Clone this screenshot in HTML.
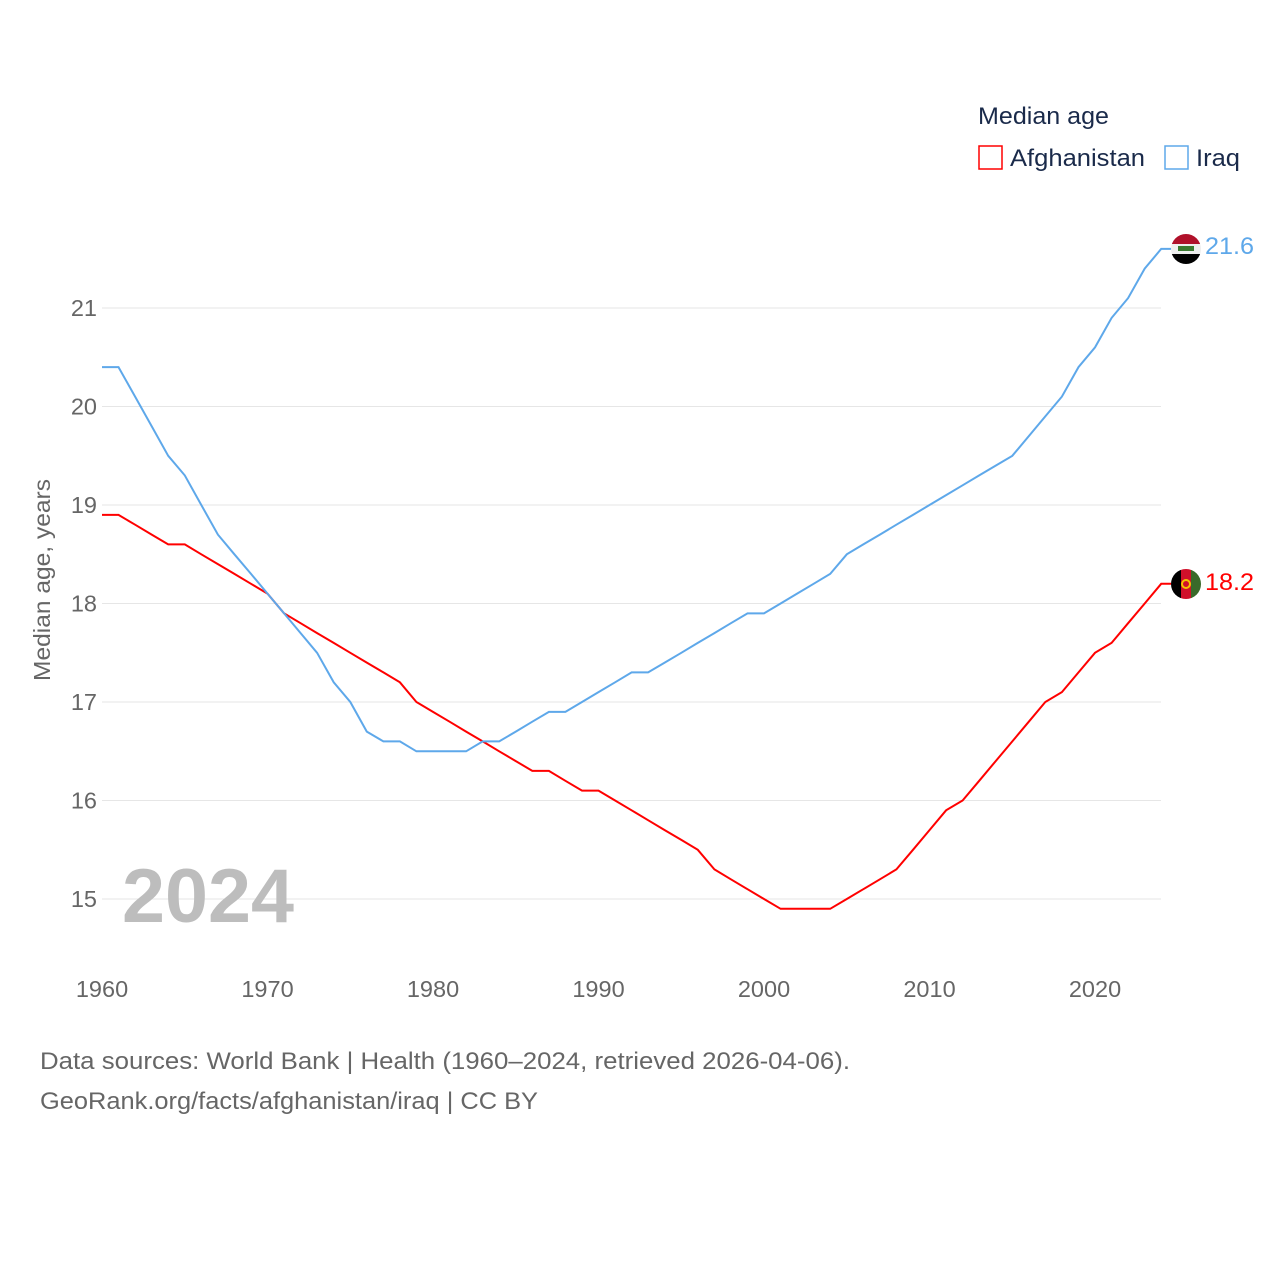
<!DOCTYPE html>
<html><head><meta charset="utf-8"><style>
body{margin:0;background:#fff;font-family:"Liberation Sans",sans-serif}
</style></head><body>
<svg width="1280" height="1280" xmlns="http://www.w3.org/2000/svg" style="font-family:'Liberation Sans',sans-serif">
<g id="grid"></g>
<g id="yt" font-size="23.5" fill="#666" text-anchor="end"></g>
<g id="xt" font-size="23.5" fill="#666" text-anchor="middle"></g>
<text x="0" y="0" transform="translate(50,580) rotate(-90)" text-anchor="middle" font-size="23" fill="#666" textLength="202" lengthAdjust="spacingAndGlyphs">Median age, years</text>
<text x="122" y="922" font-size="76" font-weight="bold" fill="#bdbdbd" textLength="172" lengthAdjust="spacingAndGlyphs">2024</text>
<g id="lines"></g>
<g>
<text x="978" y="124" font-size="24" fill="#1a2a4a" textLength="131" lengthAdjust="spacingAndGlyphs">Median age</text>
<rect x="979" y="146" width="23" height="23" fill="none" stroke="#f00" stroke-width="1.5"/>
<text x="1010" y="166" font-size="24" fill="#1a2a4a" textLength="135" lengthAdjust="spacingAndGlyphs">Afghanistan</text>
<rect x="1165" y="146" width="23" height="23" fill="none" stroke="#5ea8ea" stroke-width="1.5"/>
<text x="1196" y="166" font-size="24" fill="#1a2a4a" textLength="44" lengthAdjust="spacingAndGlyphs">Iraq</text>
</g>
<g>
<clipPath id="ci"><circle cx="1186" cy="249" r="15"/></clipPath>
<g clip-path="url(#ci)"><rect x="1170" y="234" width="32" height="10" fill="#b0102a"/><rect x="1170" y="244" width="32" height="10" fill="#eee"/><rect x="1170" y="254" width="32" height="11" fill="#000"/><rect x="1178" y="246" width="16" height="5" fill="#3a7a30"/></g>
</g>
<g>
<clipPath id="ca"><circle cx="1186" cy="584" r="15"/></clipPath>
<g clip-path="url(#ca)"><rect x="1170" y="569" width="11" height="31" fill="#000"/><rect x="1181" y="569" width="10" height="31" fill="#d0102a"/><rect x="1191" y="569" width="11" height="31" fill="#3a6a2a"/><circle cx="1186" cy="584" r="4" fill="none" stroke="#f5c400" stroke-width="2"/></g>
</g>
<text x="1205" y="254" font-size="24" fill="#5ea8ea" textLength="49" lengthAdjust="spacingAndGlyphs">21.6</text>
<text x="1205" y="590" font-size="24" fill="#f00" textLength="49" lengthAdjust="spacingAndGlyphs">18.2</text>
<text x="40" y="1069" font-size="24" fill="#666" textLength="810" lengthAdjust="spacingAndGlyphs">Data sources: World Bank | Health (1960–2024, retrieved 2026-04-06).</text>
<text x="40" y="1109" font-size="24" fill="#666" textLength="498" lengthAdjust="spacingAndGlyphs">GeoRank.org/facts/afghanistan/iraq | CC BY</text>
</svg>
<script>
const years=[];for(let y=1960;y<=2024;y++)years.push(y);
const iraq=[20.4,20.4,20.1,19.8,19.5,19.3,19.0,18.7,18.5,18.3,18.1,17.9,17.7,17.5,17.2,17.0,16.7,16.6,16.6,16.5,16.5,16.5,16.5,16.6,16.6,16.7,16.8,16.9,16.9,17.0,17.1,17.2,17.3,17.3,17.4,17.5,17.6,17.7,17.8,17.9,17.9,18.0,18.1,18.2,18.3,18.5,18.6,18.7,18.8,18.9,19.0,19.1,19.2,19.3,19.4,19.5,19.7,19.9,20.1,20.4,20.6,20.9,21.1,21.4,21.6];
const afghanistan=[18.9,18.9,18.8,18.7,18.6,18.6,18.5,18.4,18.3,18.2,18.1,17.9,17.8,17.7,17.6,17.5,17.4,17.3,17.2,17.0,16.9,16.8,16.7,16.6,16.5,16.4,16.3,16.3,16.2,16.1,16.1,16.0,15.9,15.8,15.7,15.6,15.5,15.3,15.2,15.1,15.0,14.9,14.9,14.9,14.9,15.0,15.1,15.2,15.3,15.5,15.7,15.9,16.0,16.2,16.4,16.6,16.8,17.0,17.1,17.3,17.5,17.6,17.8,18.0,18.2];
const yTicks=[15,16,17,18,19,20,21];
const xTicks=[1960,1970,1980,1990,2000,2010,2020];
const X=y=>102+(y-1960)*16.55;
const Y=v=>308-(v-21)*98.5;
const NS="http://www.w3.org/2000/svg";
const g=document.getElementById('grid'),yt=document.getElementById('yt'),xt=document.getElementById('xt'),ln=document.getElementById('lines');
yTicks.forEach(t=>{
 const l=document.createElementNS(NS,'line');
 
 
 l.setAttribute('x1',102);l.setAttribute('x2',1161);l.setAttribute('y1',Y(t));l.setAttribute('y2',Y(t));l.setAttribute('stroke','#e6e6e6');
 g.appendChild(l);
 const tx=document.createElementNS(NS,'text');
 
 
 tx.setAttribute('x',97);tx.setAttribute('y',Y(t)+8);tx.textContent=t;yt.appendChild(tx);
});
xTicks.forEach(t=>{
 const tx=document.createElementNS(NS,'text');
 
 
 tx.setAttribute('x',X(t));tx.setAttribute('y',997);tx.textContent=t;xt.appendChild(tx);
});
function draw(vals,color,name){
 const p=document.createElementNS(NS,'path');
 
 
 let d=vals.map((v,i)=>(i?'L':'M')+X(years[i]).toFixed(1)+','+Y(v).toFixed(1)).join('');
 d+='L'+(X(2024)+10)+','+Y(vals[vals.length-1]).toFixed(1);
 p.setAttribute('d',d);p.setAttribute('fill','none');p.setAttribute('stroke',color);p.setAttribute('stroke-width','2');
 ln.appendChild(p);
}
draw(afghanistan,'#f00','afghanistan-line');
draw(iraq,'#5ea8ea','iraq-line');
</script>
</body></html>
